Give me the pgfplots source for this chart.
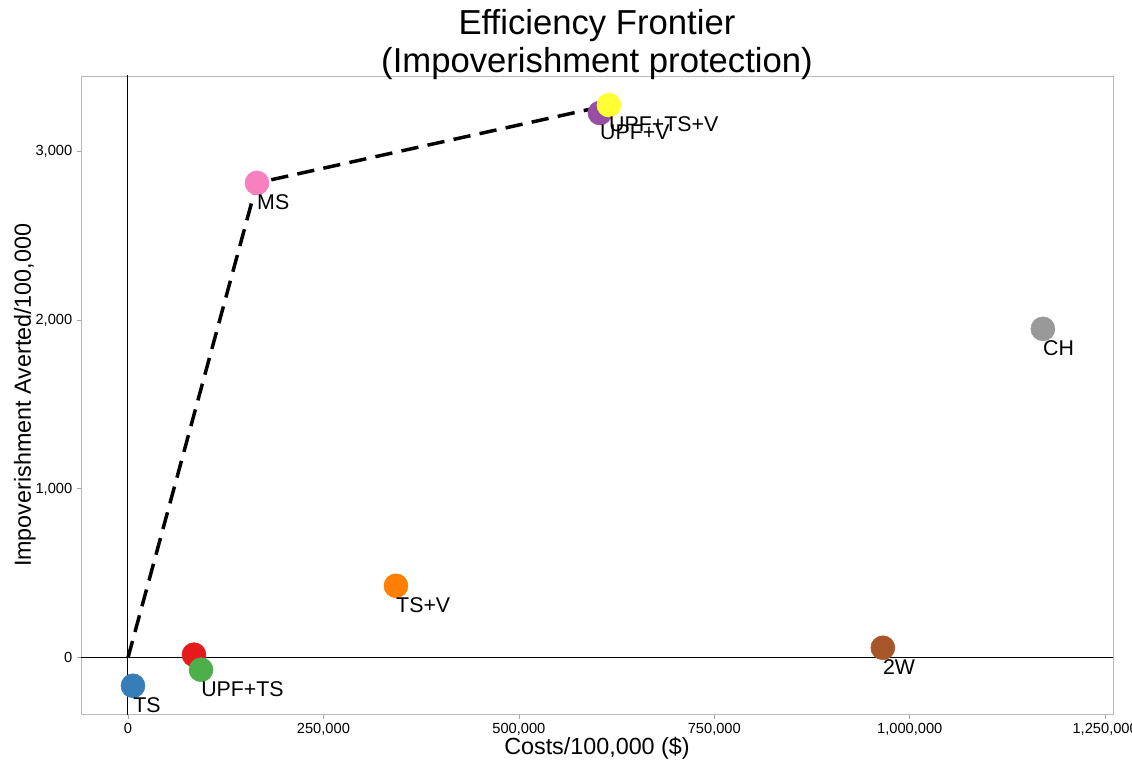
\documentclass[border=0pt]{standalone}
\usepackage{fontspec}
\setmainfont{Liberation Sans}
\usepackage{pgfplots}
\pgfplotsset{compat=1.18}

\definecolor{cred}{HTML}{E41A1C}
\definecolor{cblue}{HTML}{377EB8}
\definecolor{cgreen}{HTML}{4DAF4A}
\definecolor{cpurple}{HTML}{984EA3}
\definecolor{corange}{HTML}{FF7F00}
\definecolor{cyellow}{HTML}{FFFF33}
\definecolor{cbrown}{HTML}{A65628}
\definecolor{cpink}{HTML}{F781BF}
\definecolor{cgrey}{HTML}{999999}

\begin{document}
\begin{tikzpicture}
\begin{axis}[
    scale only axis,
    width=774pt, height=479pt,
    xmin=-60100, xmax=1260000,
    ymin=-337, ymax=3444,
    xtick={0,250000,500000,750000,1000000,1250000},
    ytick={0,1000,2000,3000},
    scaled ticks=false,
    /pgf/number format/.cd, fixed, precision=0, 1000 sep={,}, assume math mode=true,
    /pgfplots/.cd,
    axis line style={gray!55, line width=0.6pt},
    tick align=outside,
    major tick length=3pt,
    tick style={gray!70, line width=0.5pt},
    xtick pos=bottom, ytick pos=left,
    tick label style={font=\fontsize{11}{13}\selectfont, black},
    title={Efficiency Frontier\\(Impoverishment protection)},
    title style={at={(axis description cs:0.5,1)}, anchor=south, inner sep=0pt, yshift=-9pt,
        align=center, font=\fontsize{26}{28.5}\selectfont},
    xlabel={Costs/100,000 (\$)},
    ylabel={Impoverishment Averted/100,000},
    xlabel style={at={(axis description cs:0.5,-0.053)}, anchor=center, font=\fontsize{17.5}{20}\selectfont},
    ylabel style={at={(axis description cs:-0.0543,0.5)}, anchor=center, font=\fontsize{17.5}{20}\selectfont},
    clip=true,
    nodes near coords style={anchor=north west, inner sep=0pt, yshift=-8.5pt, font=\fontsize{16}{18}\selectfont, black},
]
% reference lines
\addplot[black, line width=0.75pt] coordinates {(0,-400) (0,3500)};
\addplot[black, line width=0.75pt] coordinates {(-70000,0) (1300000,0)};

% strategies
\addplot[only marks, mark=*, mark size=9pt, color=cblue, nodes near coords={TS}] coordinates {(6400,-166)};
\addplot[only marks, mark=*, mark size=9pt, color=cred] coordinates {(84400,18)};
\addplot[only marks, mark=*, mark size=9pt, color=cgreen, nodes near coords={UPF+TS}] coordinates {(93400,-71)};
\addplot[only marks, mark=*, mark size=9pt, color=cpink, nodes near coords={MS}] coordinates {(165000,2811)};
\addplot[only marks, mark=*, mark size=9pt, color=corange, nodes near coords={TS+V}] coordinates {(342800,426)};
\addplot[only marks, mark=*, mark size=9pt, color=cpurple, nodes near coords={UPF+V}] coordinates {(603700,3225)};
\addplot[only marks, mark=*, mark size=9pt, color=cyellow, nodes near coords={UPF+TS+V}] coordinates {(615200,3272)};
\addplot[only marks, mark=*, mark size=9pt, color=cbrown, nodes near coords={2W}] coordinates {(965600,59)};
\addplot[only marks, mark=*, mark size=9pt, color=cgrey, nodes near coords={CH}] coordinates {(1170300,1947)};

% frontier
\addplot[black, line width=2.6pt, dash pattern=on 13pt off 7pt] coordinates {
    (0,0) (165000,2811) (615200,3272)
};
\end{axis}
\pgfresetboundingbox
\useasboundingbox ([xshift=-60.75pt,yshift=-36pt]current axis.south west)
    rectangle ([xshift=14.25pt,yshift=57pt]current axis.north east);
\end{tikzpicture}
\end{document}
